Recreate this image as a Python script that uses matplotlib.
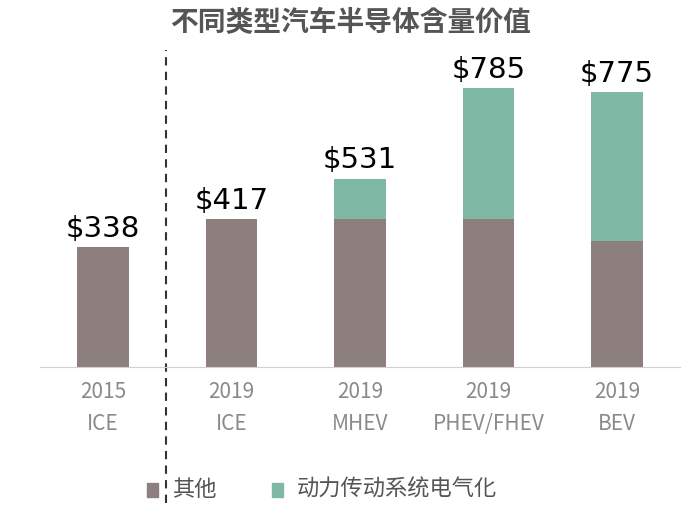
import matplotlib
matplotlib.use("Agg")
import matplotlib.pyplot as plt
from matplotlib import font_manager as fm

cjk = None
for f in fm.fontManager.ttflist:
    if "CJK" in f.name and ("SC" in f.name or cjk is None):
        cjk = f.name
plt.rcParams["font.family"] = [cjk or "Noto Sans CJK SC", "DejaVu Sans"]

categories = ["2015\nICE", "2019\nICE", "2019\nMHEV", "2019\nPHEV/FHEV", "2019\nBEV"]
other = [338, 417, 417, 417, 355]
electrified = [0, 0, 114, 368, 420]
totals = ["$338", "$417", "$531", "$785", "$775"]

fig = plt.figure(figsize=(7, 5.2), dpi=100)
ax = fig.add_axes([40/700, 1-367/520, 640/700, (367-50)/520])
x = range(len(categories))
c1, c2 = "#8E7F7F", "#7FB8A4"
ax.bar(x, other, width=0.4, color=c1)
ax.bar(x, electrified, width=0.4, bottom=other, color=c2)
for i in x:
    ax.text(i, other[i]+electrified[i]+12, totals[i], ha="center", va="bottom",
            fontsize=21, color="black", family="DejaVu Sans")
ax.set_xlim(-0.49, 4.49)
ax.set_ylim(0, 893)
ax.set_yticks([])
for s in ["top", "left", "right"]:
    ax.spines[s].set_visible(False)
ax.spines["bottom"].set_color("#D0D0D0")
ax.set_xticks(list(x))
ax.set_xticklabels(categories, fontsize=15, color="#8A8A8A", linespacing=1.6)
ax.tick_params(axis="x", length=0, pad=10)
ax.axvline(0.49, ymin=-0.43, ymax=1.0, color="#333333", linestyle=(0, (4, 3)), lw=1.5, clip_on=False)

fig.text(0.5, 0.955, "不同类型汽车半导体含量价值", ha="center", va="center",
         fontsize=20, fontweight="bold", style="italic", color="#555555")
fig.patches.append(plt.Rectangle((147/700, 1-497/520), 11/700, 14/520, color=c1, transform=fig.transFigure))
fig.text(172/700, 1-489/520, "其他", fontsize=16, color="#555555", va="center")
fig.patches.append(plt.Rectangle((272/700, 1-497/520), 11/700, 14/520, color=c2, transform=fig.transFigure))
fig.text(297/700, 1-489/520, "动力传动系统电气化", fontsize=16, color="#555555", va="center")
fig.savefig("out.png")
